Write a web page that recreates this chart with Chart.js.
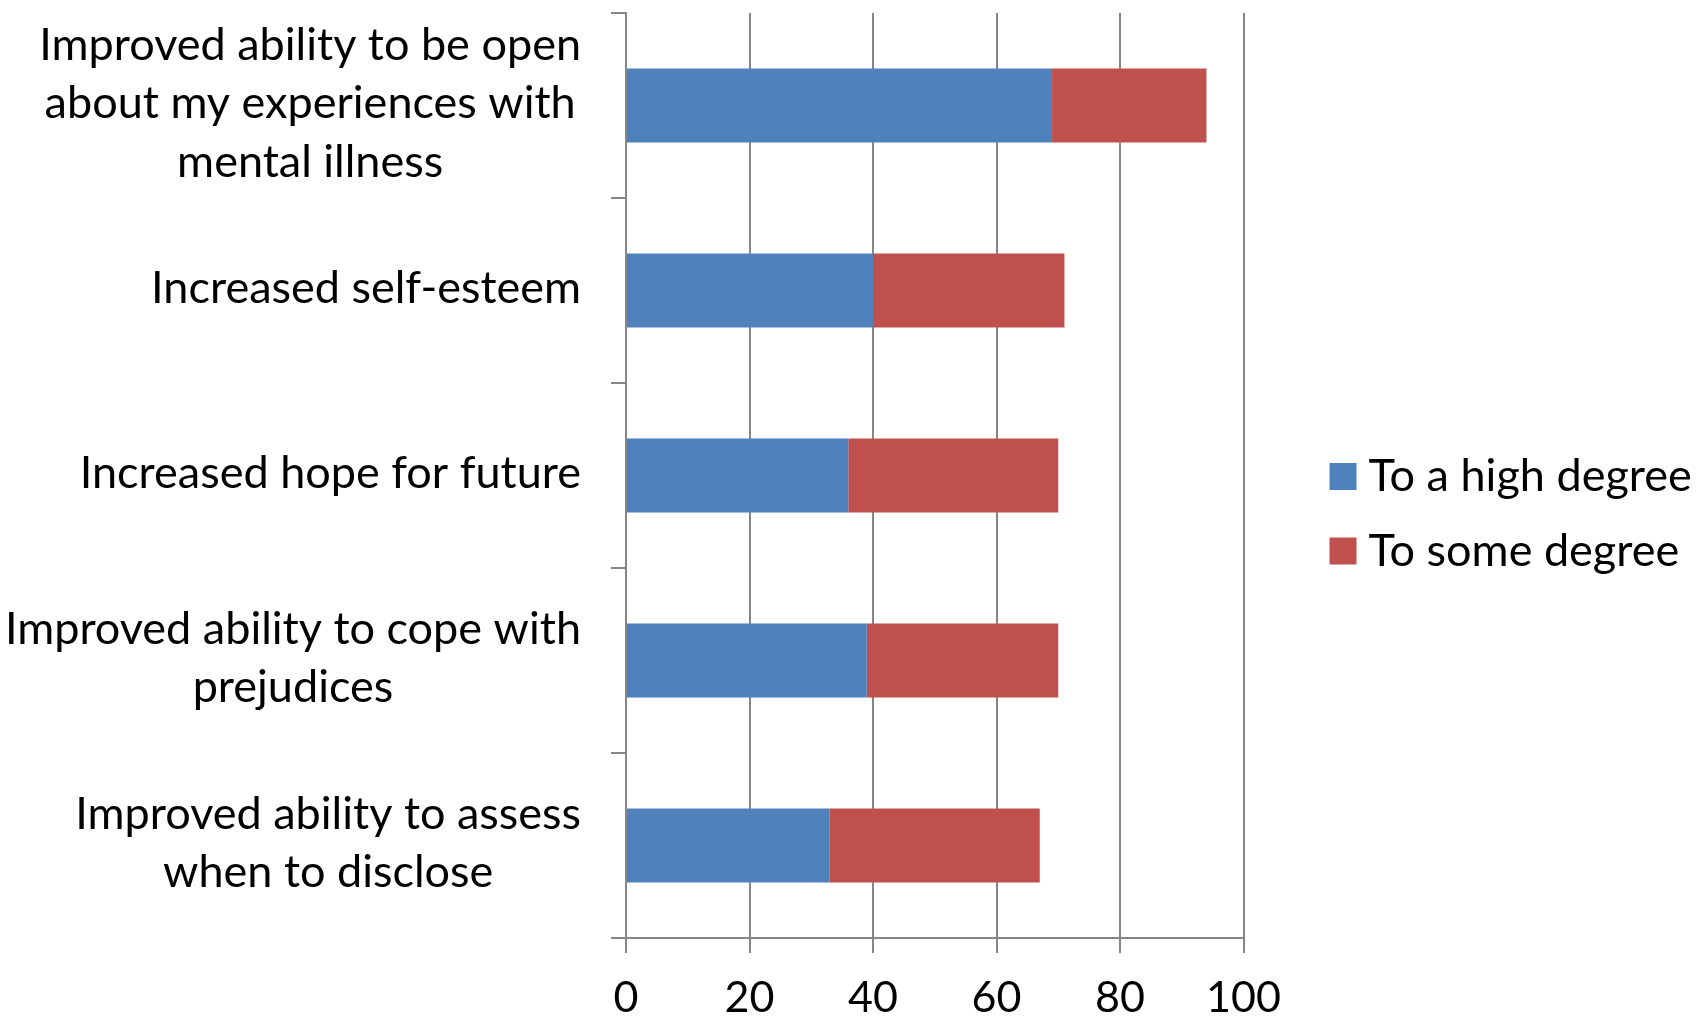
<!DOCTYPE html>
<html>
<head>
<meta charset="utf-8">
<title>Perceived effects</title>
<script src="https://cdn.jsdelivr.net/npm/chart.js@4/dist/chart.umd.min.js"></script>
<style>
  html, body { margin: 0; padding: 0; background: #ffffff; }
  #wrap { width: 1705px; height: 1020px; }
</style>
</head>
<body>
<div id="wrap"><canvas id="chart" width="1705" height="1020"></canvas></div>
<script>
// Category labels, one array of lines per bar
const categories = [
  ["Improved ability to be open", "about my experiences with", "mental illness"],
  ["Increased self-esteem"],
  ["Increased hope for future"],
  ["Improved ability to cope with", "prejudices"],
  ["Improved ability to assess", "when to disclose"]
];
const seriesNames = ["To a high degree", "To some degree"];
const highDegree = [69, 40, 36, 39, 33];
const someDegree = [25, 31, 34, 31, 34];
const xTickValues = [0, 20, 40, 60, 80, 100];

const FONT = "Lato, 'Open Sans', 'Noto Sans', sans-serif";
const LABEL_SIZE = 45;
const TICK_SIZE = 43;
const GRID = "#868686";

// Multi-line category labels: each block right-aligned to the axis, lines centred within the block
const categoryLabels = {
  id: "categoryLabels",
  afterDraw(chart) {
    const ctx = chart.ctx;
    const yScale = chart.scales.y;
    const right = yScale.left - 30;
    const lineH = 58.5;
    ctx.save();
    ctx.font = LABEL_SIZE + "px " + FONT;
    ctx.fillStyle = "#000000";
    ctx.textAlign = "center";
    ctx.textBaseline = "middle";
    categories.forEach((lines, i) => {
      const cy = yScale.getPixelForValue(i) - 2;
      const widest = Math.max(...lines.map(l => ctx.measureText(l).width));
      const cx = right - widest / 2;
      const top = cy - (lines.length - 1) * lineH / 2;
      lines.forEach((l, k) => ctx.fillText(l, cx, top + k * lineH));
    });
    ctx.restore();
  }
};

// Legend to the right of the plot area
const sideLegend = {
  id: "sideLegend",
  afterDraw(chart) {
    const ctx = chart.ctx;
    const area = chart.chartArea;
    const box = 27;
    const x0 = area.right + 86;
    const mid = (area.top + area.bottom) / 2;
    const rows = [mid + 1, mid + 75.5];
    ctx.save();
    ctx.font = LABEL_SIZE + "px " + FONT;
    ctx.textAlign = "left";
    ctx.textBaseline = "middle";
    chart.data.datasets.forEach((ds, i) => {
      const y = rows[i];
      ctx.fillStyle = ds.backgroundColor;
      ctx.fillRect(x0, y - box / 2, box, box);
      ctx.fillStyle = "#000000";
      ctx.fillText(ds.label, x0 + box + 12, y);
    });
    ctx.restore();
  }
};

new Chart(document.getElementById("chart"), {
  type: "bar",
  data: {
    labels: categories.map(c => c.join(" ")),
    datasets: [
      { label: seriesNames[0], data: highDegree, backgroundColor: "#4F81BD", borderWidth: 0 },
      { label: seriesNames[1], data: someDegree, backgroundColor: "#C0504D", borderWidth: 0 }
    ]
  },
  options: {
    indexAxis: "y",
    responsive: false,
    animation: false,
    events: [],
    layout: { padding: { left: 611, right: 461.5, top: 13, bottom: -24 } },
    datasets: { bar: { categoryPercentage: 1.0, barPercentage: 0.4 } },
    plugins: {
      legend: { display: false },
      tooltip: { enabled: false }
    },
    scales: {
      x: {
        stacked: true,
        min: 0,
        max: 100,
        afterBuildTicks(scale) { scale.ticks = xTickValues.map(v => ({ value: v })); },
        grid: { color: GRID, lineWidth: 2, drawTicks: true, tickLength: 15 },
        border: { display: true, color: GRID, width: 2 },
        ticks: {
          color: "#000000",
          padding: 24,
          maxRotation: 0,
          font: { family: FONT, size: TICK_SIZE, lineHeight: 1 }
        }
      },
      y: {
        stacked: true,
        grid: { display: true, drawOnChartArea: false, drawTicks: true, tickLength: 15, color: GRID, lineWidth: 2, offset: true },
        border: { display: true, color: GRID, width: 2 },
        ticks: { display: false }
      }
    }
  },
  plugins: [categoryLabels, sideLegend]
});
</script>
</body>
</html>
